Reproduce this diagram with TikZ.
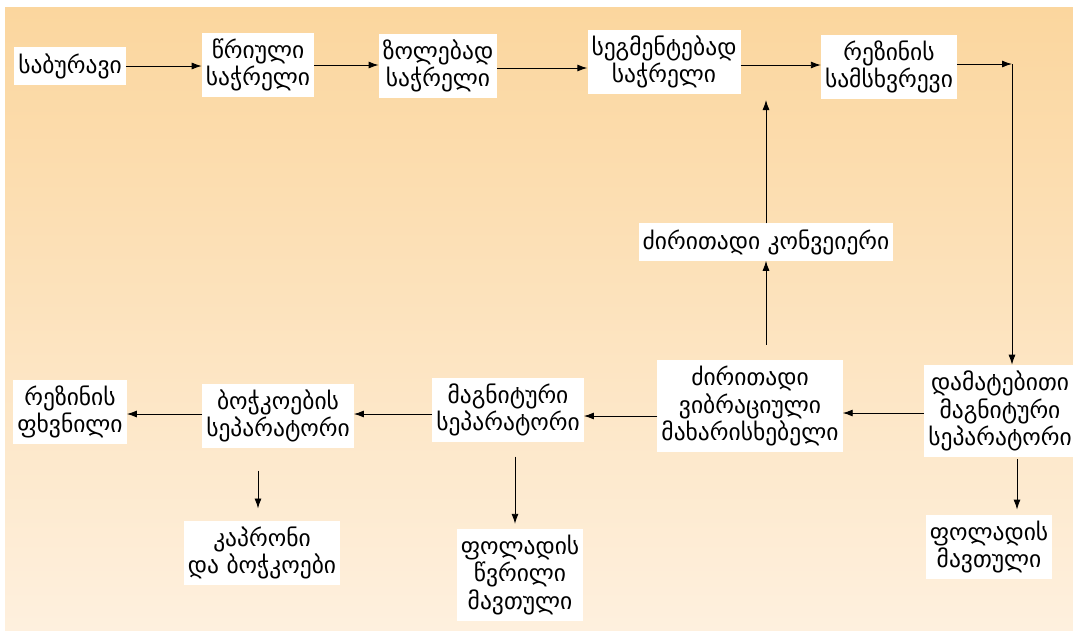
\documentclass[tikz,border=0pt]{standalone}
\usepackage{fontspec}
\setmainfont{DejaVu Sans}
\usetikzlibrary{calc}
\usetikzlibrary{arrows.meta}
\definecolor{bgtop}{RGB}{251,214,158}
\definecolor{bgbot}{RGB}{254,240,222}
\tikzset{blk/.style={fill=white, align=center, inner xsep=4pt, inner ysep=6pt, font=\fontsize{23.5}{27.5}\selectfont}}
\tikzset{arr/.style={-{Latex[length=10pt,width=7pt]}, line width=0.9pt}}

\begin{document}
\begin{tikzpicture}[x=1pt,y=-1pt]
    \useasboundingbox (0,0) rectangle (1073,630);
    \shade[top color=bgtop, bottom color=bgbot] (5,7) rectangle (1073,630);
    % upper line
    \node[blk] (sab) at (70,66) {საბურავი};
    \node[blk] (wri) at (258,65) {წრიული\\საჭრელი};
    \node[blk] (zol) at (438,66) {ზოლებად\\საჭრელი};
    \node[blk] (seg) at (664,62) {სეგმენტებად\\საჭრელი};
    \node[blk] (rez) at (889,67) {რეზინის\\სამსხვრევი};
    \node[blk] (kon) at (766,242) {ძირითადი კონვეიერი};
    % lower line
    \node[blk] (dam) at (1000,411) {დამატებითი\\მაგნიტური\\სეპარატორი};
    \node[blk] (vib) at (750,406) {ძირითადი\\ვიბრაციული\\მახარისხებელი};
    \node[blk] (mag) at (508,410) {მაგნიტური\\სეპარატორი};
    \node[blk] (boc) at (278,416) {ბოჭკოების\\სეპარატორი};
    \node[blk] (fxv) at (70,412) {რეზინის\\ფხვნილი};
    \node[blk] (kap) at (262,553) {კაპრონი\\და ბოჭკოები};
    \node[blk] (wvr) at (520,575) {ფოლადის\\წვრილი\\მავთული};
    \node[blk] (mav) at (989,547) {ფოლადის\\მავთული};
    \coordinate (cr) at (1012,64);
    \coordinate (up) at (766,100);
    % connectors
    \path[arr] (sab) edge (sab -| wri.west);
    \path[arr] (wri) edge (wri -| zol.west);
    \path[arr] (zol.east |- 0,68) edge (seg.west |- 0,68);
    \path[arr] (seg.east |- 0,65) edge (rez.west |- 0,65);
    \draw[arr] (rez.east |- cr) -- (cr);
    \draw[arr] (cr) -- (cr |- dam.north);
    \draw[arr] (kon) -- (up);
    \draw[arr, shorten <=15pt] (vib.north -| kon) -- (kon);
    \draw[arr] (dam.west |- 0,413) -- (vib.east |- 0,413);
    \draw[arr] (vib.west |- 0,416) -- (mag.east |- 0,416);
    \draw[arr] (mag.west |- 0,414) -- (boc.east |- 0,414);
    \draw[arr] (boc.west |- 0,414) -- (fxv.east |- 0,414);
    \draw[arr, shorten <=22pt, shorten >=12pt] (boc.south -| 258,0) -- (kap.north -| 258,0);
    \draw[arr, shorten <=14pt, shorten >=5pt] (mag.south -| 515,0) -- (wvr.north -| 515,0);
    \draw[arr, shorten <=2pt, shorten >=5pt] (dam.south -| 1017,0) -- (mav.north -| 1017,0);
\end{tikzpicture}
\end{document}
